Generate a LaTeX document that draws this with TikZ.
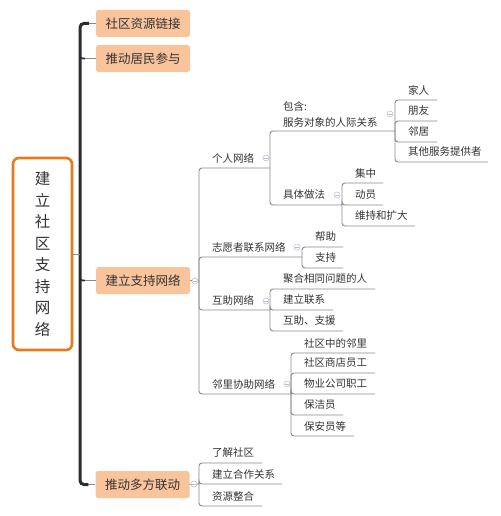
\documentclass[tikz,border=0pt]{standalone}
\usepackage{fontspec}
\setmainfont{Noto Sans CJK SC}
\definecolor{linegray}{HTML}{8A8A8A}
\definecolor{trunkc}{HTML}{2E2A33}
\definecolor{peach}{HTML}{F9C49C}
\definecolor{mainor}{HTML}{E57A1E}
\definecolor{txtc}{HTML}{333333}
\definecolor{colc}{HTML}{B4BACF}
\newcommand\uitem[6]{%
  \draw[tl,rounded corners=3pt] (#2,#3) |- (#5,#4);
  \node[lbl] (#1) at (#2+13,#4-10) {#6};
}
\newcommand\colmark[2]{%
  \draw[colc,fill=white,line width=0.5pt] (#1,#2) circle (3pt);
  \draw[colc,line width=0.5pt] (#1-1.6,#2) -- (#1+1.6,#2);
}
\begin{document}
\begin{tikzpicture}[x=1pt,y=-1pt,
  tl/.style={draw=linegray,line width=0.9pt},
  lbl/.style={anchor=west,inner sep=0pt,text=txtc,font=\fontsize{10.5}{12}\selectfont},
  lvone/.style={fill=peach,rounded corners=2.5pt,minimum width=94pt,minimum height=27pt,inner sep=0pt,text=txtc,font=\fontsize{12.5}{14}\selectfont},
  mainbox/.style={draw=mainor,line width=2.6pt,rounded corners=6pt,fill=white,minimum width=59pt,minimum height=192pt,inner sep=0pt,text=txtc,align=center,font=\fontsize{15.5}{21.5}\selectfont}]
\useasboundingbox (0,0) rectangle (500,516);
\fill[white] (0,0) rectangle (500,516);

% level-1 nodes
\node[lvone] (n1) at (143,23.5) {社区资源链接};
\node[lvone] (n2) at (143,58.5) {推动居民参与};
\node[lvone] (n3) at (143,280.5) {建立支持网络};
\node[lvone] (n4) at (142.5,484.5) {推动多方联动};

% trunk connectors
\coordinate (tj) at (80,254);
\draw[tl] (tj) |- (n1.west);
\draw[tl] (tj) |- (n2.west);
\draw[tl] (tj) |- (n3.west);
\draw[tl] (tj) |- (n4.west);
\draw[trunkc,line width=3pt,rounded corners=4pt] ([xshift=-7pt]n1.west) -| (tj) |- ([xshift=-7pt]n4.west);
\draw[trunkc,line width=1.6pt,rounded corners=3pt] ([xshift=-16pt,yshift=5pt]n2.west) |- ([xshift=-11pt]n2.west);
\draw[trunkc,line width=1.6pt,rounded corners=3pt] ([xshift=-16pt,yshift=5pt]n3.west) |- ([xshift=-11pt]n3.west);

% main node
\node[mainbox] (m) at (42.5,254) {建\\立\\社\\区\\支\\持\\网\\络};
\draw[tl] (m.east) -- (tj);

% branches of 建立支持网络
\draw[tl] (n3.east) -- (199,281);
\uitem{grw}{199}{281}{168}{270}{个人网络}
\uitem{zyz}{199}{281}{257}{302}{志愿者联系网络}
\uitem{hz}{199}{281}{310}{270}{互助网络}
\uitem{ll}{199}{281}{394}{291}{邻里协助网络}

% 个人网络
\draw[tl,rounded corners=3pt] (270,168) |- (395,131);
\node[lbl,align=left,font=\fontsize{10.5}{16}\selectfont] (bh) at (283,114) {包含:\\服务对象的人际关系};
\uitem{jt}{270}{168}{205}{342}{具体做法}

\uitem{jr}{395}{131}{100}{437}{家人}
\uitem{py}{395}{131}{121}{437}{朋友}
\uitem{lj}{395}{131}{142}{437}{邻居}
\uitem{qt}{395}{131}{162}{488}{其他服务提供者}

\uitem{jz}{342}{205}{183}{383}{集中}
\uitem{dy}{342}{205}{205}{383}{动员}
\uitem{wc}{342}{205}{226}{415}{维持和扩大}

% 志愿者联系网络
\uitem{bz}{302}{257}{247}{343}{帮助}
\uitem{zc}{302}{257}{268}{343}{支持}

% 互助网络
\uitem{jh}{270}{310}{289}{375}{聚合相同问题的人}
\uitem{jl}{270}{310}{310}{333}{建立联系}
\uitem{hzy}{270}{310}{331}{343}{互助、支援}

% 邻里协助网络
\uitem{sq}{291}{394}{353}{375}{社区中的邻里}
\uitem{sd}{291}{394}{373}{375}{社区商店员工}
\uitem{wy}{291}{394}{394}{375}{物业公司职工}
\uitem{bj}{291}{394}{415}{343}{保洁员}
\uitem{ba}{291}{394}{436}{354}{保安员等}

% 推动多方联动
\draw[tl] (n4.east) -- (199,484);
\uitem{lj2}{199}{484}{463}{262}{了解社区}
\uitem{hz2}{199}{484}{484}{282}{建立合作关系}
\uitem{zy2}{199}{484}{506}{262}{资源整合}

% collapse marks
\colmark{195}{281}
\colmark{266}{158}
\colmark{390}{114}
\colmark{337}{195}
\colmark{297}{247}
\colmark{266}{301}
\colmark{287}{384}
\colmark{194}{484}
\end{tikzpicture}
\end{document}
